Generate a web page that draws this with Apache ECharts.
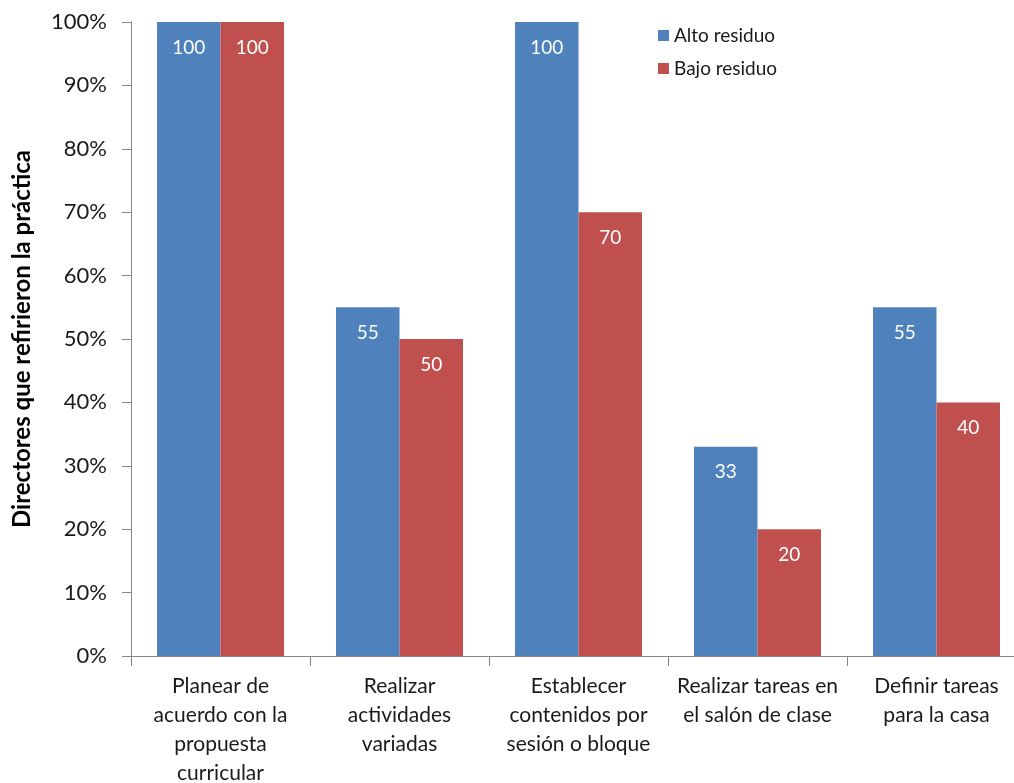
<!DOCTYPE html>
<html>
<head>
<meta charset="utf-8">
<script src="https://cdn.jsdelivr.net/npm/echarts@6/dist/echarts.min.js"></script>
<style>
html,body{margin:0;padding:0;background:#fff;}
#chart{width:1014px;height:783px;}
</style>
</head>
<body>
<div id="chart"></div>
<script>
var categorias = [
	"Planear de\nacuerdo con la\npropuesta\ncurricular",
	"Realizar\nactividades\nvariadas",
	"Establecer\ncontenidos por\nsesión o bloque",
	"Realizar tareas en\nel salón de clase",
	"Definir tareas\npara la casa"
];
var altoResiduo = [100, 55, 100, 33, 55];
var bajoResiduo = [100, 50, 70, 20, 40];

var fuente = "Lato";
var chart = echarts.init(document.getElementById("chart"));

// etiqueta blanca dentro de la barra, cerca del borde superior
var etiqueta = {
	show: true,
	position: "insideTop",
	distance: 16,
	color: "#ffffff",
	fontFamily: fuente,
	fontSize: 19
};

var option = {
	animation: false,
	textStyle: {fontFamily: fuente},
	legend: {
		orient: "vertical",
		left: 653,
		top: 21,
		itemWidth: 11,
		itemHeight: 11,
		itemGap: 14,
		icon: "rect",
		textStyle: {fontFamily: fuente, fontSize: 19, color: "#1a1a1a"},
		data: ["Alto residuo", "Bajo residuo"]
	},
	grid: {
		left: 131,
		width: 895,
		top: 22,
		bottom: 127,
		containLabel: false,
		outerBoundsMode: "none"
	},
	xAxis: {
		type: "category",
		data: categorias,
		axisLine: {lineStyle: {color: "#868686"}},
		axisTick: {show: true, length: 10, lineStyle: {color: "#868686"}},
		axisLabel: {
			interval: 0,
			margin: 16,
			fontFamily: fuente,
			fontSize: 21,
			lineHeight: 29,
			color: "#1a1a1a"
		}
	},
	yAxis: {
		type: "value",
		min: 0,
		max: 100,
		interval: 10,
		name: "Directores que refirieron la práctica",
		nameLocation: "middle",
		nameGap: 97,
		nameRotate: 90,
		nameTextStyle: {fontFamily: fuente, fontSize: 24, fontWeight: "bold", color: "#000"},
		splitLine: {show: false},
		axisLine: {show: true, lineStyle: {color: "#868686"}},
		axisTick: {show: true, length: 9, lineStyle: {color: "#868686"}},
		axisLabel: {
			formatter: "{value}%",
			margin: 24,
			fontFamily: fuente,
			fontSize: 22,
			color: "#1a1a1a"
		}
	},
	series: [
		{
			name: "Alto residuo",
			type: "bar",
			data: altoResiduo,
			barWidth: 63.5,
			barGap: "0%",
			itemStyle: {color: "#4F81BD"},
			label: etiqueta
		},
		{
			name: "Bajo residuo",
			type: "bar",
			data: bajoResiduo,
			barWidth: 63.5,
			barGap: "0%",
			itemStyle: {color: "#C0504D"},
			label: etiqueta
		}
	]
};

chart.setOption(option);
</script>
</body>
</html>
